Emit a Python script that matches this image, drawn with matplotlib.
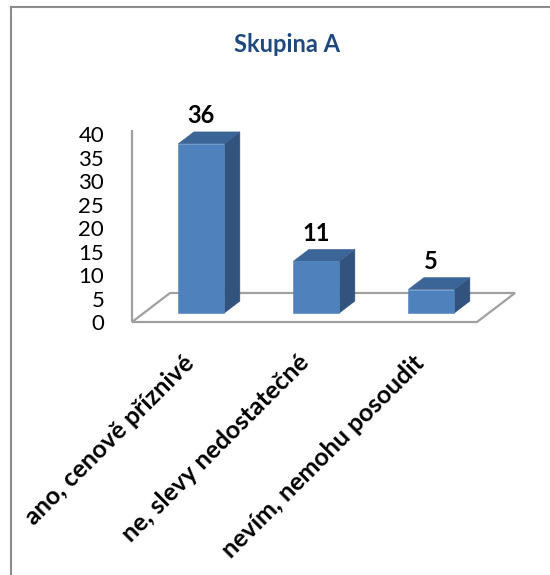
import matplotlib
matplotlib.use("Agg")
import matplotlib.pyplot as plt
from matplotlib.patches import Polygon
from matplotlib.lines import Line2D

categories = ["ano, cenově příznivé", "ne, slevy nedostatečné", "nevím, nemohu posoudit"]
values = [36, 11, 5]
yticks = [0, 5, 10, 15, 20, 25, 30, 35, 40]
title = "Skupina A"

FONT = "Lato"
W, H, DPI = 550, 575, 100
fig = plt.figure(figsize=(W / DPI, H / DPI), dpi=DPI)
fig.patch.set_facecolor("white")

# front plane of the plot area (pixels)
ax_left, ax_right, ax_bottom = 132, 477, 322
px_per_val = 4.7
ymax = 40
ax = fig.add_axes([ax_left / W, 1 - ax_bottom / H,
                   (ax_right - ax_left) / W, ymax * px_per_val / H])
ax.set_xlim(0, len(categories))
ax.set_ylim(0, ymax)
px_per_cat = (ax_right - ax_left) / len(categories)

# floor depth expressed in data units
depth_px = (38, 29)
dX = depth_px[0] / px_per_cat
dY = depth_px[1] / px_per_val

for s in ax.spines.values():
    s.set_visible(False)
ax.set_xticks([])
ax.set_yticks(yticks)
ax.set_yticklabels([str(t) for t in yticks], fontsize=16, family=FONT)
ax.tick_params(axis="y", length=0, pad=20)

grey = "#A0A0A0"
# floor outline
floor = [(0, 0), (3, 0), (3 + dX, dY), (0 + dX, dY)]
ax.add_patch(Polygon(floor, closed=True, fill=False, edgecolor=grey,
                     lw=1.6, clip_on=False, zorder=1))
# vertical axis
ax.plot([0, 0], [0, ymax + 0.8], color=grey, lw=1.6, clip_on=False, zorder=1,
        solid_capstyle="butt")

front_c = "#4F81BD"
top_c = "#3C6597"
side_c = "#31537E"
bw = 0.4
f1, f2 = 0.31, 0.72
for i, v in enumerate(values):
    xc = i + 0.5
    xl, xr = xc - bw / 2, xc + bw / 2
    ox1, oy1 = f1 * dX, f1 * dY
    ox2, oy2 = f2 * dX, f2 * dY
    front = [(xl + ox1, oy1), (xr + ox1, oy1), (xr + ox1, v + oy1), (xl + ox1, v + oy1)]
    top = [(xl + ox1, v + oy1), (xr + ox1, v + oy1), (xr + ox2, v + oy2), (xl + ox2, v + oy2)]
    side = [(xr + ox1, oy1), (xr + ox2, oy2), (xr + ox2, v + oy2), (xr + ox1, v + oy1)]
    for poly, c in ((side, side_c), (top, top_c), (front, front_c)):
        ax.add_patch(Polygon(poly, closed=True, facecolor=c, edgecolor=c,
                             lw=0.4, clip_on=False, zorder=3))
    ax.text(xc + ox1, v + oy2 + 16 / px_per_val, str(v), ha="center", va="center",
            fontsize=17, fontweight="bold", family=FONT, color="black", zorder=4)

# rotated category labels
for i, lab in enumerate(categories):
    ax.text(i + 0.5 + 1 / px_per_cat, -37 / px_per_val, lab, rotation=45,
            rotation_mode="anchor", ha="right", va="center", fontsize=18,
            fontweight="bold", family=FONT, color="black")

fig.text(287 / W, 1 - 44 / H, title, ha="center", va="center", fontsize=17,
         fontweight="bold", family=FONT, color="#1F497D")

# chart frame
frame_c = "#8C8C8C"
fig.add_artist(Line2D([11 / W, 11 / W], [0, 1 - 7 / H], color=frame_c, lw=1.5,
                      transform=fig.transFigure))
fig.add_artist(Line2D([11 / W, 1], [1 - 7 / H, 1 - 7 / H], color=frame_c, lw=1.5,
                      transform=fig.transFigure))

fig.savefig("out.png", dpi=DPI)
